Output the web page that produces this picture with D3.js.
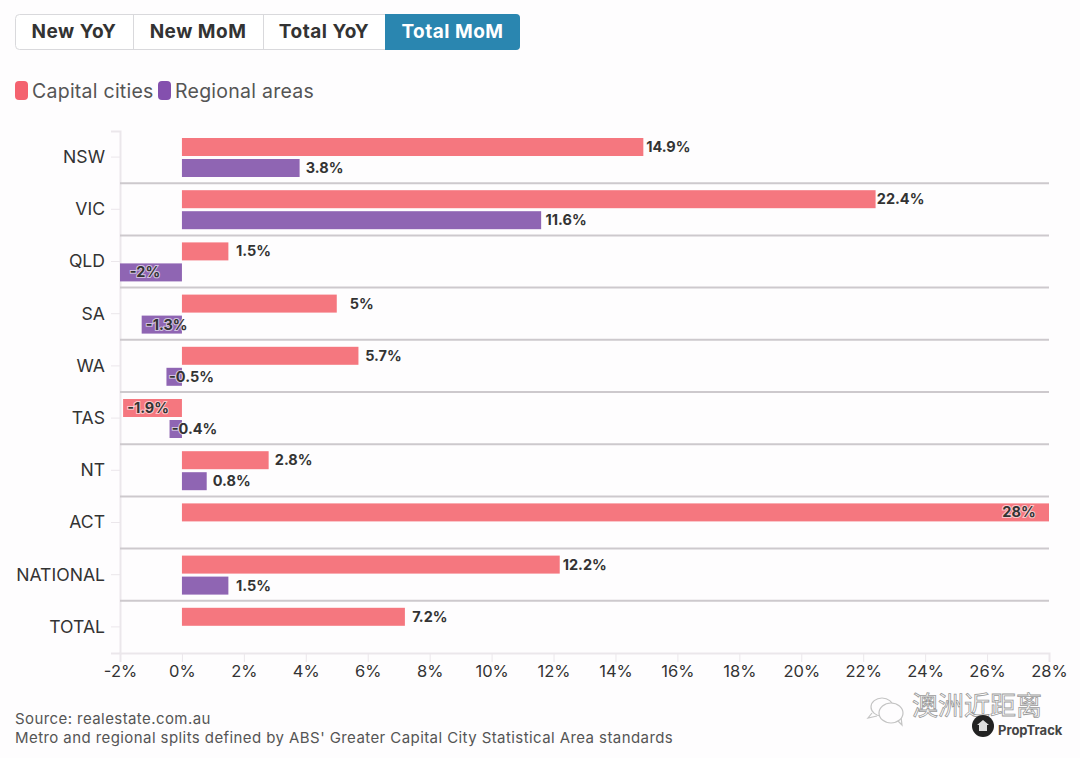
<!DOCTYPE html>
<html>
<head>
<meta charset="utf-8">
<script src="https://cdn.jsdelivr.net/npm/d3@7"></script>
<style>
  html, body { margin: 0; padding: 0; background: #fefdfe; }
  svg { display: block; }
  text { font-family: Inter, "Noto Sans", sans-serif; fill: #333; }
</style>
</head>
<body>
<div id="chart"></div>
<script>
const categories = ["NSW", "VIC", "QLD", "SA", "WA", "TAS", "NT", "ACT", "NATIONAL", "TOTAL"];
const capitalCities = [14.9, 22.4, 1.5, 5, 5.7, -1.9, 2.8, 28, 12.2, 7.2];
const regionalAreas = [3.8, 11.6, -2, -1.3, -0.5, -0.4, 0.8, null, 1.5, null];
const seriesNames = ["Capital cities", "Regional areas"];
const tabs = ["New YoY", "New MoM", "Total YoY", "Total MoM"];
const xTicks = d3.range(-2, 29, 2);

const barColor = {"Capital cities": "#f5777f", "Regional areas": "#8f65b3"};
const legendColor = {"Capital cities": "#f4626f", "Regional areas": "#8450ae"};

const width = 1080, height = 758;
const margin = {top: 131, right: 31, bottom: 105, left: 120};

const svg = d3.select("#chart").append("svg")
  .attr("width", width)
  .attr("height", height);

const x = d3.scaleLinear().domain([-2, 28]).range([margin.left, width - margin.right]);
const y = d3.scaleBand().domain(categories).range([margin.top, height - margin.bottom]);
const inner = d3.scaleBand().domain(seriesNames).range([7, 46]).paddingInner(0.143);

// tabs at the top
const tabEdges = [15, 133, 263, 385, 520];
const tabG = svg.append("g");
tabG.append("rect")
  .attr("x", 15.5).attr("y", 14.5).attr("width", 504).attr("height", 35).attr("rx", 4)
  .attr("fill", "#fff").attr("stroke", "#d9d9dc");
tabG.append("path")
  .attr("d", "M385,14 H516 a4,4 0 0 1 4,4 V46 a4,4 0 0 1 -4,4 H385 Z")
  .attr("fill", "#2a86b0");
tabs.forEach(function(t, i) {
  if (i > 0 && i < 3) {
    tabG.append("line")
      .attr("x1", tabEdges[i] + 0.5).attr("x2", tabEdges[i] + 0.5)
      .attr("y1", 14).attr("y2", 50).attr("stroke", "#d9d9dc");
  }
  tabG.append("text")
    .attr("x", (tabEdges[i] + tabEdges[i + 1]) / 2)
    .attr("y", 38)
    .attr("text-anchor", "middle")
    .style("font-size", "19px")
    .style("font-weight", 700)
    .style("letter-spacing", "0.5px")
    .style("fill", i == 3 ? "#fff" : "#333")
    .text(t);
});

// legend
const legendX = [15, 158];
const legend = svg.append("g").selectAll("g")
  .data(seriesNames)
  .enter().append("g")
  .attr("transform", (d, i) => "translate(" + legendX[i] + ",81)");
legend.append("rect")
  .attr("width", 13).attr("height", 19).attr("rx", 4)
  .attr("fill", d => legendColor[d]);
legend.append("text")
  .attr("x", 17).attr("y", 16.5)
  .style("font-size", "19.5px")
  .style("letter-spacing", "0.25px")
  .style("fill", "#555")
  .text(d => d);

// y axis
const yAxis = svg.append("g")
  .attr("transform", "translate(" + margin.left + ",0)")
  .call(d3.axisLeft(y).tickSize(9).tickPadding(6));
yAxis.select(".domain").attr("stroke", "#ebe7eb").attr("stroke-width", 2);
yAxis.selectAll(".tick line").attr("stroke", "#ebe7eb");
yAxis.selectAll(".tick text")
  .attr("dy", "0.33em")
  .style("font-family", "Inter, sans-serif")
  .style("font-size", "17.6px")
  .style("fill", "#333");

// x axis
const xAxis = svg.append("g")
  .attr("transform", "translate(0," + (height - margin.bottom) + ")")
  .call(d3.axisBottom(x).tickValues(xTicks).tickSize(9).tickPadding(3).tickFormat(d => d + "%"));
xAxis.select(".domain").attr("stroke", "#ebe7eb").attr("stroke-width", 2);
xAxis.selectAll(".tick line").attr("stroke", "#ebe7eb");
xAxis.selectAll(".tick text")
  .style("font-family", "Inter, sans-serif")
  .style("font-size", "16.5px")
  .style("fill", "#333");

// separators between the groups
svg.append("g").selectAll("line")
  .data(categories.slice(1))
  .enter().append("line")
  .attr("x1", margin.left).attr("x2", width - margin.right)
  .attr("y1", d => y(d)).attr("y2", d => y(d))
  .attr("stroke", "#cdc9cd").attr("stroke-width", 2);

const rows = [];
categories.forEach(function(c, i) {
  if (capitalCities[i] != null) rows.push({cat: c, series: seriesNames[0], value: capitalCities[i]});
  if (regionalAreas[i] != null) rows.push({cat: c, series: seriesNames[1], value: regionalAreas[i]});
});

svg.append("g").selectAll("rect")
  .data(rows)
  .enter().append("rect")
  .attr("x", d => x(Math.min(0, d.value)))
  .attr("width", d => Math.abs(x(d.value) - x(0)))
  .attr("y", d => y(d.cat) + inner(d.series))
  .attr("height", inner.bandwidth())
  .attr("fill", d => barColor[d.series]);

svg.append("g").selectAll("text")
  .data(rows)
  .enter().append("text")
  .attr("x", d => Math.min(x(d.value) + 25, x(28) - 30))
  .attr("y", d => y(d.cat) + inner(d.series) + inner.bandwidth() / 2 + 5)
  .attr("text-anchor", "middle")
  .attr("stroke", "rgba(255,255,255,0.6)")
  .attr("stroke-width", 2)
  .attr("paint-order", "stroke")
  .style("font-size", "14.5px")
  .style("font-weight", 700)
  .text(d => d.value + "%");

// footnotes
const notes = ["Source: realestate.com.au", "Metro and regional splits defined by ABS' Greater Capital City Statistical Area standards"];
svg.append("g").selectAll("text")
  .data(notes)
  .enter().append("text")
  .attr("x", 15)
  .attr("y", (d, i) => 724 + i * 19)
  .style("font-size", "15px")
  .style("letter-spacing", "0.42px")
  .style("fill", "#555")
  .text(d => d);

// wechat watermark and logo
const mark = svg.append("g");
mark.append("path").attr("d", "M872,713 l-4,5 l9,-2")
  .attr("fill", "#fefdfe").attr("stroke", "#c4c4c4").attr("stroke-width", 1.2);
mark.append("ellipse").attr("cx", 882).attr("cy", 707).attr("rx", 11).attr("ry", 9)
  .attr("fill", "#fefdfe").attr("stroke", "#c4c4c4").attr("stroke-width", 1.2);
mark.append("path").attr("d", "M897,720 l5,5 l-1,-8")
  .attr("fill", "#fefdfe").attr("stroke", "#c4c4c4").attr("stroke-width", 1.2);
mark.append("ellipse").attr("cx", 891).attr("cy", 713).attr("rx", 12).attr("ry", 10)
  .attr("fill", "#fefdfe").attr("stroke", "#c4c4c4").attr("stroke-width", 1.2);
mark.append("text")
  .attr("x", 912).attr("y", 715)
  .style("font-family", "'Noto Sans CJK SC'")
  .style("font-size", "26px")
  .style("fill", "#fff")
  .attr("stroke", "#9a9a9a").attr("stroke-width", 0.8)
  .text("澳洲近距离");
mark.append("circle").attr("cx", 983).attr("cy", 726).attr("r", 11).attr("fill", "#222");
mark.append("path").attr("d", "M977,725 l6,-5 l6,5 l-2,0 l0,6 l-8,0 l0,-6 Z").attr("fill", "#ddd");
mark.append("text")
  .attr("x", 998).attr("y", 735)
  .style("font-size", "13px")
  .style("font-weight", 700)
  .style("fill", "#444")
  .text("PropTrack");
</script>
</body>
</html>
